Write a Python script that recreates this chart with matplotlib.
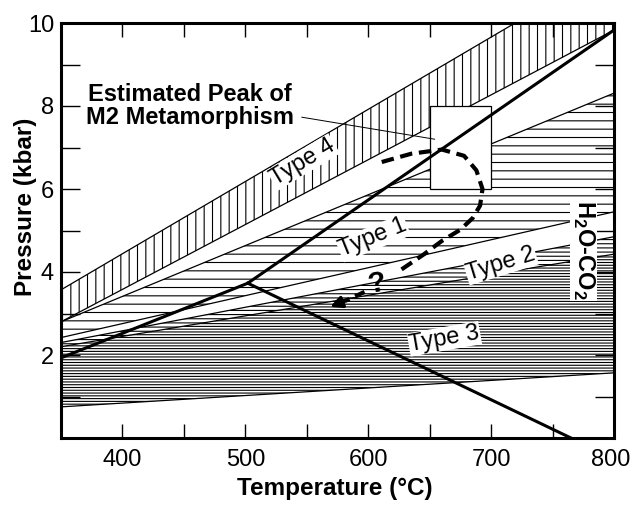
import matplotlib.pyplot as plt
from matplotlib.patches import Rectangle
from matplotlib.ticker import MultipleLocator
from matplotlib.transforms import ScaledTranslation

plt.rcParams['font.family'] = ['Liberation Sans', 'DejaVu Sans']
plt.rcParams['mathtext.fontset'] = 'custom'
plt.rcParams['mathtext.rm'] = 'Liberation Sans'
plt.rcParams['mathtext.bf'] = 'Liberation Sans:bold'
plt.rcParams['hatch.linewidth'] = 0.8

# isochore band edges, read at the left (350 C) and right (800 C) edges
t_edge = [350, 800]
type4_top = [3.57, 11.4]
type4_bot = [2.80, 9.83]
type1_top = [2.80, 8.31]
type1_bot = [2.42, 5.45]
type2_top = [2.30, 4.85]
type3_top = [2.20, 4.43]
type3_bot = [0.75, 1.57]

# thick reaction lines
rx1_t = [350, 502, 800]
rx1_p = [1.93, 3.73, 9.83]
rx2_t = [502, 765]
rx2_p = [3.73, 0.0]

# P-T path (dashed), upper part and the part after the "?"
path1_t = [611, 635, 660, 678, 688, 693, 691, 685, 675, 660, 645, 625]
path1_p = [6.65, 6.85, 6.95, 6.8, 6.45, 6.0, 5.6, 5.3, 5.02, 4.75, 4.42, 4.02]
path2_t = [597, 581]
path2_p = [3.52, 3.30]
arrow_tip = (569, 3.16)

# estimated peak box
box_t = [650, 700]
box_p = [6.0, 8.0]

fig = plt.figure(figsize=(6.32, 5.05), dpi=100)
ax = fig.add_axes([61 / 632, 1 - 438 / 505, 553 / 632, 415 / 505])

# hatched bands
ax.fill_between(t_edge, type3_bot, type3_top, facecolor='white',
                edgecolor='black', hatch='------', linewidth=0, zorder=1)
ax.fill_between(t_edge, type3_top, type2_top, facecolor='white',
                edgecolor='black', hatch='----', linewidth=0, zorder=1)
ax.fill_between(t_edge, type1_bot, type1_top, facecolor='white',
                edgecolor='black', hatch='--', linewidth=0, zorder=1)
ax.fill_between(t_edge, type4_bot, type4_top, facecolor='white',
                edgecolor='black', hatch='||', linewidth=0, zorder=1)

for edge in [type4_top, type4_bot, type1_top, type1_bot, type2_top,
             type3_top, type3_bot]:
    ax.plot(t_edge, edge, color='black', lw=0.9, zorder=2)

ax.add_patch(Rectangle((box_t[0], box_p[0]), box_t[1] - box_t[0],
                       box_p[1] - box_p[0], facecolor='white',
                       edgecolor='black', lw=0.9, zorder=3))

ax.plot(rx1_t, rx1_p, color='black', lw=2.2, zorder=4)
ax.plot(rx2_t, rx2_p, color='black', lw=2.2, zorder=4)

# pointer from label to box
ax.plot([546, 654], [7.73, 7.2], color='black', lw=0.7, zorder=4)

ax.plot(path1_t, path1_p, color='black', lw=3, dashes=(3, 1.6), zorder=5)
ax.plot(path2_t, path2_p, color='black', lw=3, dashes=(2.5, 1.5), zorder=5)
ax.annotate('', xy=arrow_tip, xytext=(path2_t[-1], path2_p[-1]),
            arrowprops=dict(arrowstyle='-|>', color='black', lw=2.5,
                            mutation_scale=17, shrinkA=0, shrinkB=0),
            zorder=5)
ax.text(607, 3.72, '?', fontsize=21, fontweight='bold', ha='center',
        va='center', rotation=10, zorder=6)

box_style = dict(facecolor='white', edgecolor='none', pad=0.5)
ax.text(547, 6.65, 'Type 4', fontsize=17, rotation=31, ha='center',
        va='center', rotation_mode='anchor', bbox=box_style, zorder=6)
ax.text(604, 4.82, 'Type 1', fontsize=17, rotation=22, ha='center',
        va='center', rotation_mode='anchor', bbox=box_style, zorder=6)
ax.text(708, 4.2, 'Type 2', fontsize=17, rotation=17, ha='center',
        va='center', rotation_mode='anchor', bbox=box_style, zorder=6)
ax.text(662, 2.39, 'Type 3', fontsize=17, rotation=10, ha='center',
        va='center', rotation_mode='anchor', bbox=box_style, zorder=6)
ax.text(775, 4.53, r'H$_\mathbf{2}$O-CO$_\mathbf{2}$', fontsize=17,
        fontweight='bold', rotation=-90, ha='center', va='center',
        bbox=box_style, zorder=6)
ax.text(455, 8.0, 'Estimated Peak of\nM2 Metamorphism', fontsize=17,
        fontweight='bold', ha='center', va='center', linespacing=1.05,
        zorder=6)

ax.set_xlim(350, 800)
ax.set_ylim(0, 10)
ax.set_xticks([400, 500, 600, 700, 800])
ax.set_yticks([2, 4, 6, 8, 10])
ax.xaxis.set_minor_locator(MultipleLocator(50))
ax.yaxis.set_minor_locator(MultipleLocator(1))
ax.tick_params(axis='x', which='both', direction='in', top=True,
               length=10, width=1, labelsize=17, pad=8)
ax.tick_params(axis='y', which='both', direction='in', right=True,
               length=14, width=1, labelsize=17, pad=5)
for s in ax.spines.values():
    s.set_linewidth(2.2)

ax.set_xlabel('Temperature (°C)', fontsize=17.5, fontweight='bold')
ax.set_ylabel('Pressure (kbar)', fontsize=17.5, fontweight='bold')
ax.xaxis.set_label_coords(0.496, -0.094)
ax.yaxis.set_label_coords(-0.065, 0.557)
ax.yaxis.label.set_verticalalignment('center')

fig.canvas.draw()
last = ax.get_xticklabels()[-1]
last.set_transform(last.get_transform() +
                   ScaledTranslation(-3 / 100, 0, fig.dpi_scale_trans))

fig.savefig('out.png', dpi=100)
